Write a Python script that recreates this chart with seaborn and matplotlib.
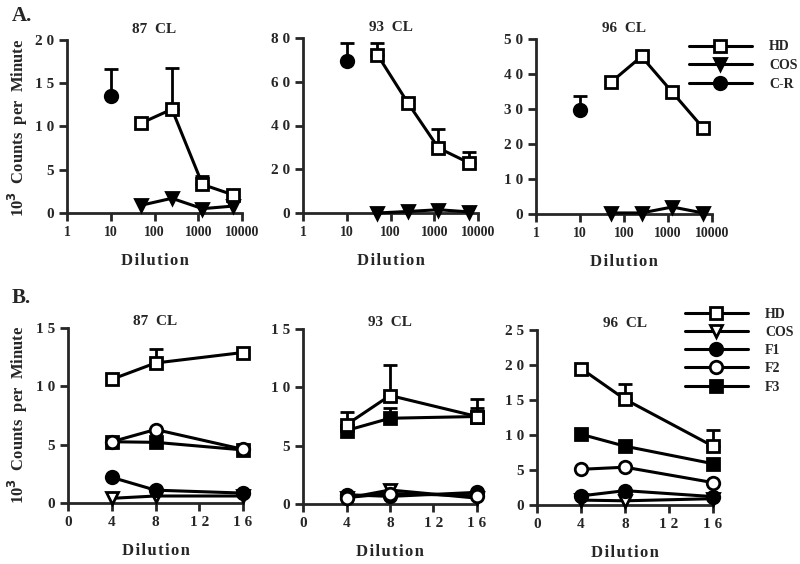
import numpy as np
import pandas as pd
import matplotlib
matplotlib.use("Agg")
import matplotlib.pyplot as plt
import seaborn as sns

# ---- panel A data (dilution on log axis) ----
dil_a = [50, 250, 1250, 6250]
cr_dil = [10]
titles = ["87  CL", "93  CL", "96  CL"]

a_hd = [[10.4, 12.0, 3.3, 2.1],
        [72.4, 50.3, 29.7, 22.9],
        [37.6, 45.0, 34.8, 24.6]]
a_hd_top = [[None, 16.8, 4.3, None],
            [77.7, None, 38.4, 28.0],
            [None, None, None, None]]
a_cos = [[0.9, 1.7, 0.5, 0.8],
         [0.0, 0.7, 1.5, 0.5],
         [0.3, 0.3, 2.0, 0.3]]
a_cr = [13.5, 69.7, 29.8]
a_cr_top = [16.7, 77.7, 33.8]
a_ymax = [20, 80, 50]
a_yticks = [[0, 5, 10, 15, 20], [0, 20, 40, 60, 80], [0, 10, 20, 30, 40, 50]]

# ---- panel B data ----
dil_b = [4, 8, 16]
b_hd = [[10.6, 12.0, 12.9], [6.8, 9.3, 7.5], [19.5, 15.1, 8.4]]
b_hd_top = [[None, 13.2, None], [7.9, 11.9, 9.0], [None, 17.3, 10.7]]
b_cos = [[0.4, 0.6, 0.6], [0.5, 1.2, 0.5], [0.7, 0.6, 0.9]]
b_f1 = [[2.2, 1.1, 0.85], [0.8, 0.65, 1.0], [1.3, 2.05, 1.2]]
b_f2 = [[5.25, 6.3, 4.6], [0.55, 0.9, 0.7], [5.1, 5.4, 3.2]]
b_f3 = [[5.25, 5.2, 4.55], [6.3, 7.35, 7.5], [10.1, 8.4, 5.9]]
b_f3_top = [[None, None, None], [None, 8.2, 8.2], [None, None, None]]
b_ymax = [15, 15, 25]
b_yticks = [[0, 5, 10, 15], [0, 5, 10, 15], [0, 5, 10, 15, 20, 25]]

sns.set_style("ticks")
plt.rcParams['font.family'] = ['Liberation Serif', 'DejaVu Serif']
plt.rcParams['font.weight'] = 'bold'
plt.rcParams['axes.linewidth'] = 2.0

fig = plt.figure(figsize=(8, 5.64), dpi=100)
W, H = 800.0, 564.0


def add_ax(l, r, top, bot):
    return fig.add_axes([l / W, 1 - bot / H, (r - l) / W, (bot - top) / H])


def spaced(v):
    return " ".join(str(v))


STYLE = {
    "HD": dict(marker="s", mfc="white"),
    "COS_A": dict(marker="v", mfc="black"),
    "COS_B": dict(marker="v", mfc="white"),
    "C-R": dict(marker="o", mfc="black"),
    "F1": dict(marker="o", mfc="black"),
    "F2": dict(marker="o", mfc="white"),
    "F3": dict(marker="s", mfc="black"),
}


def draw(ax, x, y, key, label, z=3):
    df = pd.DataFrame({"x": x, "y": y})
    st = STYLE[key]
    sns.lineplot(data=df, x="x", y="y", ax=ax, color="black", lw=2.2,
                 marker=st["marker"], mfc=st["mfc"], mec="black", ms=9, mew=2,
                 clip_on=False, zorder=z, label=label, legend=False)


def caps(ax, x, y, tops):
    for xi, yi, ti in zip(x, y, tops):
        if ti is None:
            continue
        ax.errorbar([xi], [yi], yerr=[[0], [ti - yi]], fmt="none", ecolor="black",
                    elinewidth=2, capsize=5, capthick=2, zorder=1, clip_on=False)


def style_axes(ax, yticks, ymax, xsize):
    sns.despine(ax=ax)
    ax.set_ylim(0, ymax)
    ax.set_yticks(yticks)
    ax.set_yticklabels([spaced(t) for t in yticks])
    ax.tick_params(width=2, length=6, labelsize=11, direction="out")
    ax.tick_params(axis="x", labelsize=xsize)
    for lab in ax.get_xticklabels() + ax.get_yticklabels():
        lab.set_fontweight("bold")
    ax.set_xlabel("\u200a".join("Dilution"), fontsize=12, fontweight="bold",
                  labelpad=10)
    ax.set_ylabel("")


# panel A
a_pos = [(67, 242, 40, 213), (303, 478, 38, 213), (536, 712, 39, 214)]
for i, p in enumerate(a_pos):
    ax = add_ax(*p)
    caps(ax, dil_a, a_hd[i], a_hd_top[i])
    caps(ax, cr_dil, [a_cr[i]], [a_cr_top[i]])
    draw(ax, dil_a, a_hd[i], "HD", "HD", 4)
    draw(ax, dil_a, a_cos[i], "COS_A", "COS", 3)
    draw(ax, cr_dil, [a_cr[i]], "C-R", "C-R", 3)
    ax.set_xscale("log")
    ax.set_xlim(1, 10000)
    ax.set_xticks([1, 10, 100, 1000, 10000])
    ax.set_xticklabels(["1", "10", "100", "1000", "10000"])
    ax.minorticks_off()
    style_axes(ax, a_yticks[i], a_ymax[i], 10)
    ax.set_title(titles[i], fontsize=11, fontweight="bold", pad=5)
    if i == 2:
        h, l = ax.get_legend_handles_labels()
        fig.legend(h, l, loc="upper left", bbox_to_anchor=(676 / W, 1 - 28 / H),
                   frameon=False, handlelength=4.6, handletextpad=1.2,
                   labelspacing=0.42, prop=dict(size=10, weight="bold"))

# panel B
b_pos = [(68, 243, 328, 503), (303, 477, 329, 504), (537, 713, 330, 505)]
for i, p in enumerate(b_pos):
    ax = add_ax(*p)
    caps(ax, dil_b, b_hd[i], b_hd_top[i])
    caps(ax, dil_b, b_f3[i], b_f3_top[i])
    draw(ax, dil_b, b_hd[i], "HD", "HD", 5)
    draw(ax, dil_b, b_cos[i], "COS_B", "COS", 3)
    draw(ax, dil_b, b_f1[i], "F1", "F1", 3)
    draw(ax, dil_b, b_f3[i], "F3", "F3", 3)
    draw(ax, dil_b, b_f2[i], "F2", "F2", 4)
    ax.set_xlim(0, 16)
    ax.set_xticks([0, 4, 8, 12, 16])
    ax.set_xticklabels([spaced(t) for t in [0, 4, 8, 12, 16]])
    style_axes(ax, b_yticks[i], b_ymax[i], 11)
    ax.set_title(titles[i], fontsize=11, fontweight="bold", pad=-3)
    if i == 2:
        h, l = ax.get_legend_handles_labels()
        order = ["HD", "COS", "F1", "F2", "F3"]
        hh = [h[l.index(k)] for k in order]
        fig.legend(hh, order, loc="upper left", bbox_to_anchor=(672 / W, 1 - 295 / H),
                   frameon=False, handlelength=4.6, handletextpad=1.2,
                   labelspacing=0.38, prop=dict(size=10, weight="bold"))

ylab = "10$^{\\mathbf{3}}$  Counts  per  Minute"
fig.text(18 / W, 1 - 128 / H, ylab, rotation=90, va="center", ha="center",
         fontsize=12, fontweight="bold")
fig.text(18 / W, 1 - 415 / H, ylab, rotation=90, va="center", ha="center",
         fontsize=12, fontweight="bold")
fig.text(12 / W, 1 - 16 / H, "A.", fontsize=15, fontweight="bold", va="center")
fig.text(12 / W, 1 - 298 / H, "B.", fontsize=15, fontweight="bold", va="center")

fig.savefig("out.png", dpi=100)
